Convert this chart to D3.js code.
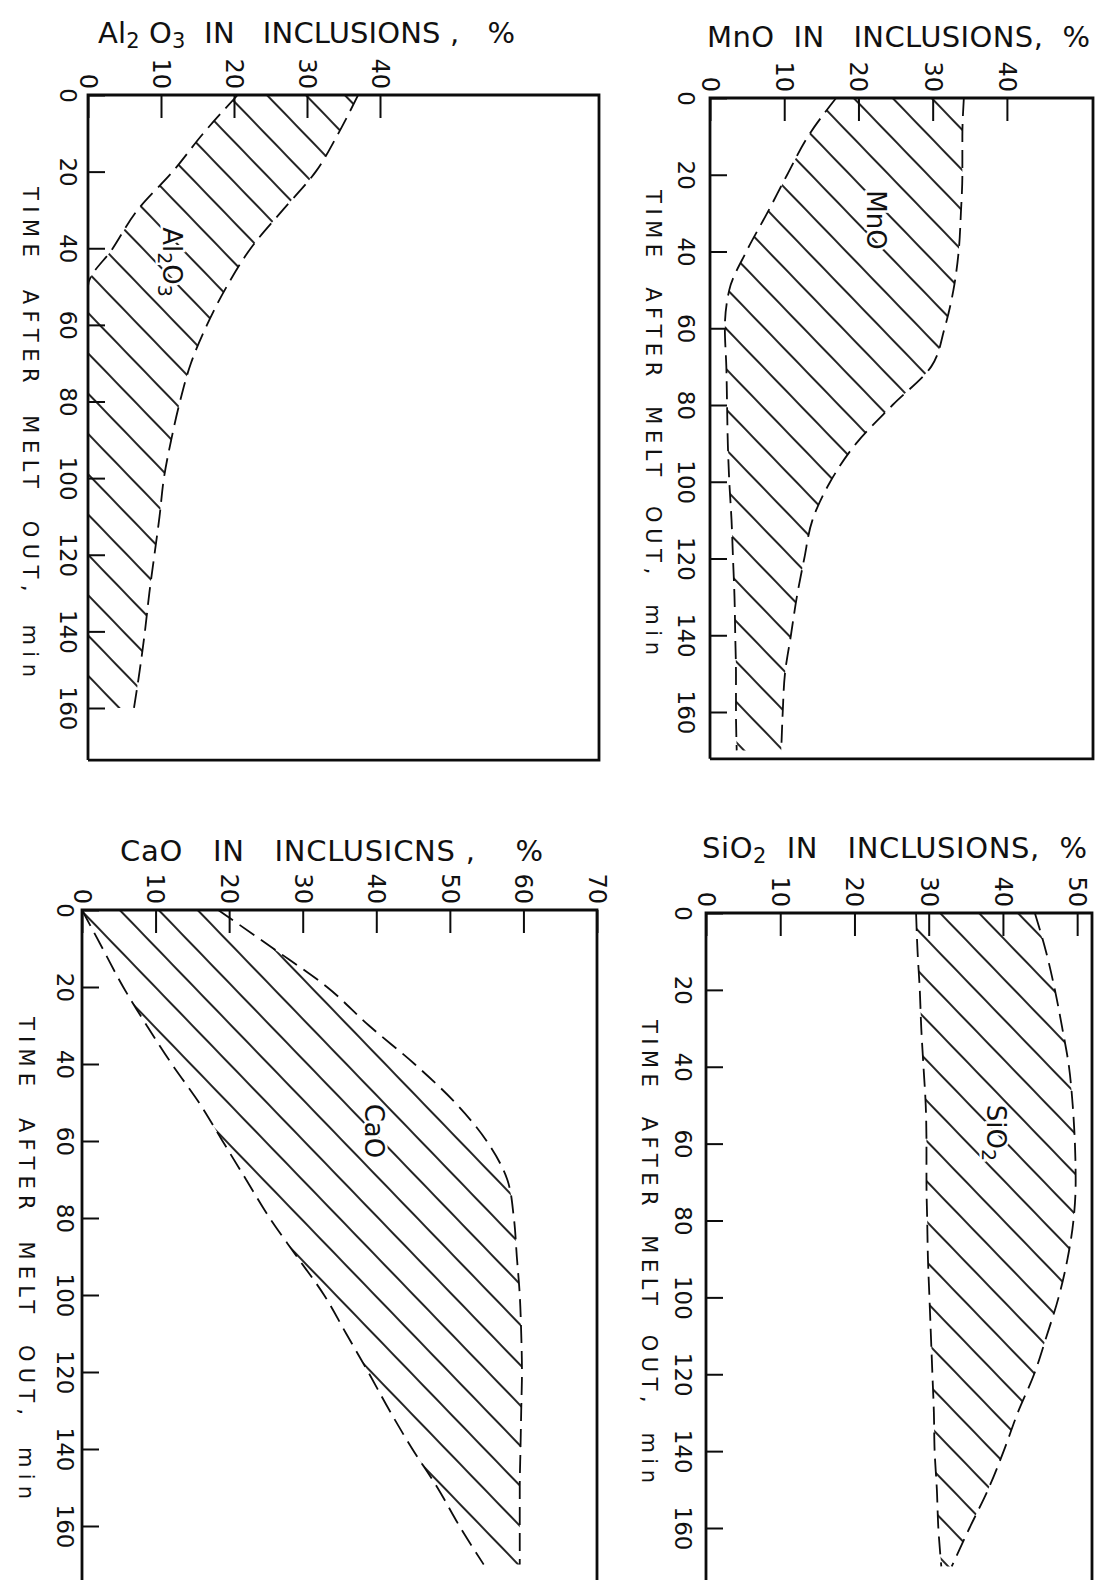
<!DOCTYPE html>
<html>
<head>
<meta charset="utf-8">
<script src="https://cdn.jsdelivr.net/npm/d3@7"></script>
<style>
  body { margin: 0; background: #fff; }
  svg { display: block; background: #fff; }
  text { font-family: "DejaVu Sans", "Liberation Sans", sans-serif; fill: #111; white-space: pre; }
</style>
</head>
<body>
<svg width="1095" height="1580"></svg>
<script>
(function() {
    'use strict';
    var svg = d3.select("svg");

    // time after melt out, min (shared rows for every panel)
    var timeMin = [0, 10, 20, 30, 40, 50, 60, 70, 80, 90, 100, 110, 120, 130, 140, 150, 160, 170];

    // lower / upper limits of each band, % in inclusions
    var al2o3Low  = [20.5, 15.8, 11.6, 6.8, 3.4, 0, 0, 0, 0, 0, 0, 0, 0, 0, 0, 0, 0, null];
    var al2o3High = [37, 34.3, 31.2, 26.7, 22.3, 19, 16.3, 14.1, 12.6, 11.4, 10.4, 9.8, 9.1, 8.4, 7.8, 7.1, 6.3, null];
    var mnoLow    = [17, 13.2, 10.4, 7.7, 4.9, 2.6, 2.0, 2.2, 2.3, 2.4, 2.6, 2.9, 3.1, 3.3, 3.4, 3.5, 3.5, 3.6];
    var mnoHigh   = [34.2, 34, 34, 33.8, 33.5, 32.8, 31.6, 29.8, 24.6, 19.7, 16.2, 13.8, 12.7, 11.7, 10.9, 10.1, 9.8, 9.6];
    var sio2Low   = [28.3, 28.5, 28.8, 29, 29.3, 29.6, 29.7, 29.7, 29.8, 29.9, 30.1, 30.3, 30.5, 30.7, 30.8, 31.1, 31.3, 31.7];
    var sio2High  = [44.3, 45.8, 47, 48, 48.9, 49.4, 49.7, 49.8, 49.5, 48.7, 47.5, 45.9, 44.2, 42, 40.1, 38, 35.5, 33.1];
    var caoLow    = [0, 2.8, 5.6, 8.8, 12.2, 15.9, 19.1, 22.3, 25.5, 29.2, 32.9, 35.9, 38.9, 41.8, 44.9, 48.3, 51.3, 54.6];
    var caoHigh   = [18.5, 26, 33.3, 39, 45.2, 50.7, 55, 57.8, 58.7, 59.1, 59.5, 59.7, 59.8, 59.7, 59.6, 59.5, 59.5, 59.5];

    // tick labels
    var timeTicks  = [0, 20, 40, 60, 80, 100, 120, 140, 160];
    var al2o3Ticks = [0, 10, 20, 30, 40];
    var mnoTicks   = [0, 10, 20, 30, 40];
    var sio2Ticks  = [0, 10, 20, 30, 40, 50];
    var caoTicks   = [0, 10, 20, 30, 40, 50, 60, 70];

    var timeTitle = "TIME  AFTER  MELT  OUT,  min";

    var ink = "#0c0c0c";

    svg.append("defs").append("pattern")
        .attr("id", "hatch")
        .attr("patternUnits", "userSpaceOnUse")
        .attr("width", 28)
        .attr("height", 28)
        .attr("patternTransform", "rotate(-44)")
      .append("line")
        .attr("x1", 14).attr("y1", -2)
        .attr("x2", 14).attr("y2", 30)
        .attr("stroke", ink)
        .attr("stroke-width", 1.8);

    var panels = [
        { low: al2o3Low, high: al2o3High, ticks: al2o3Ticks,
          pctMax: 70, xr: [88, 599], yr: [95, 708], tEnd: 173.6, closed: true,
          title: [["Al", 0], ["2", 1], [" O", 0], ["3", 1], ["  IN   INCLUSIONS ,   %", 0]],
          titleX: 98, titleY: 43, titleLen: 417,
          timeLabelX: 23, timeLabelY: [187, 677], tickLabelX: 60,
          name: [["Al", 0], ["2", 1], ["O", 0], ["3", 1]], nameAt: [172, 262] },
        { low: mnoLow, high: mnoHigh, ticks: mnoTicks,
          pctMax: 51.6, xr: [710, 1093], yr: [98, 712], tEnd: 172.2, closed: true,
          title: [["MnO  IN   INCLUSIONS,  %", 0]],
          titleX: 707, titleY: 47, titleLen: 383,
          timeLabelX: 646, timeLabelY: [190, 655], tickLabelX: 678,
          name: [["MnO", 0]], nameAt: [876, 220] },
        { low: sio2Low, high: sio2High, ticks: sio2Ticks,
          pctMax: 52, xr: [706, 1092], yr: [913, 1528], tEnd: 185, closed: false,
          title: [["SiO", 0], ["2", 1], ["  IN   INCLUSIONS,  %", 0]],
          titleX: 702, titleY: 858, titleLen: 385,
          timeLabelX: 642, timeLabelY: [1020, 1483], tickLabelX: 675,
          name: [["SiO", 0], ["2", 1]], nameAt: [996, 1133] },
        { low: caoLow, high: caoHigh, ticks: caoTicks,
          pctMax: 70, xr: [82, 597], yr: [910, 1526], tEnd: 185, closed: false,
          title: [["CaO   IN   INCLUSICNS ,    %", 0]],
          titleX: 120, titleY: 861, titleLen: 423,
          timeLabelX: 19, timeLabelY: [1017, 1499], tickLabelX: 57,
          name: [["CaO", 0]], nameAt: [374, 1131] }
    ];

    function addParts(text, parts, subSize, shift) {
        var lowered = false;
        parts.forEach(function(pt) {
            var ts = text.append("tspan").text(pt[0]);
            if (pt[1] && !lowered) { ts.attr("dy", shift).attr("font-size", subSize); lowered = true; }
            else if (pt[1]) { ts.attr("font-size", subSize); }
            else if (lowered) { ts.attr("dy", -shift); lowered = false; }
        });
    }

    panels.forEach(function(p) {
        var x = d3.scaleLinear().domain([0, p.pctMax]).range(p.xr);
        var y = d3.scaleLinear().domain([0, 160]).range(p.yr);
        var g = svg.append("g");

        var rows = timeMin.map(function(t, i) {
            return { t: t, low: p.low[i], high: p.high[i] };
        });
        var ok = function(d) { return d.low != null && d.high != null; };

        // hatched band
        g.append("path")
            .datum(rows)
            .attr("fill", "url(#hatch)")
            .attr("d", d3.area()
                .defined(ok)
                .y(function(d) { return y(d.t); })
                .x0(function(d) { return x(d.low); })
                .x1(function(d) { return x(d.high); })
                .curve(d3.curveMonotoneY));

        // dashed limits
        ["low", "high"].forEach(function(k) {
            g.append("path")
                .datum(rows)
                .attr("fill", "none")
                .attr("stroke", ink)
                .attr("stroke-width", 1.8)
                .attr("stroke-dasharray", "18,8")
                .attr("d", d3.line()
                    .defined(ok)
                    .y(function(d) { return y(d.t); })
                    .x(function(d) { return x(d[k]); })
                    .curve(d3.curveMonotoneY));
        });

        // frame
        var fx0 = x(0), fx1 = x(p.pctMax), fy0 = y(0), fy1 = y(p.tEnd);
        var frame = d3.path();
        frame.moveTo(fx0, fy1);
        frame.lineTo(fx0, fy0);
        frame.lineTo(fx1, fy0);
        frame.lineTo(fx1, fy1);
        if (p.closed) frame.lineTo(fx0, fy1);
        g.append("path")
            .attr("d", frame.toString())
            .attr("fill", "none")
            .attr("stroke", ink)
            .attr("stroke-width", 2.8);

        // percent axis along the top, ticks pointing in
        var top = g.append("g")
            .attr("transform", "translate(0," + fy0 + ")")
            .call(d3.axisTop(x).tickValues(p.ticks).tickSize(-23).tickSizeOuter(0));
        top.attr("font-family", null);
        top.select(".domain").remove();
        top.selectAll(".tick line").attr("stroke", ink).attr("stroke-width", 2);
        top.selectAll(".tick text")
            .attr("x", -6).attr("y", 0).attr("dy", "0.36em")
            .attr("transform", "rotate(90)")
            .attr("text-anchor", "end")
            .attr("font-size", 24)
            .attr("fill", ink);

        // time axis down the left, ticks pointing in
        var left = g.append("g")
            .attr("transform", "translate(" + fx0 + ",0)")
            .call(d3.axisLeft(y).tickValues(timeTicks).tickSize(-17).tickSizeOuter(0));
        left.attr("font-family", null);
        left.select(".domain").remove();
        left.selectAll(".tick line").attr("stroke", ink).attr("stroke-width", 2);
        left.selectAll(".tick text")
            .attr("x", 0).attr("y", 0).attr("dy", 0)
            .attr("transform", "translate(" + (p.tickLabelX - fx0) + ",0) rotate(90)")
            .attr("text-anchor", "middle")
            .attr("font-size", 23)
            .attr("fill", ink);

        // time axis title
        svg.append("text")
            .attr("transform", "translate(" + p.timeLabelX + "," + p.timeLabelY[0] + ") rotate(90)")
            .attr("font-size", 21)
            .attr("textLength", p.timeLabelY[1] - p.timeLabelY[0])
            .attr("lengthAdjust", "spacing")
            .text(timeTitle);

        // percent axis title
        var tt = svg.append("text")
            .attr("x", p.titleX)
            .attr("y", p.titleY)
            .attr("font-size", 29)
            .attr("textLength", p.titleLen)
            .attr("lengthAdjust", "spacing");
        addParts(tt, p.title, 21, 5);

        // band name
        var nm = svg.append("text")
            .attr("transform", "translate(" + p.nameAt[0] + "," + p.nameAt[1] + ") rotate(90)")
            .attr("text-anchor", "middle")
            .attr("dy", "0.36em")
            .attr("font-size", 26)
            .style("paint-order", "stroke")
            .attr("stroke", "#fff")
            .attr("stroke-width", 5);
        addParts(nm, p.name, 19, 5);
    });
}());
</script>
</body>
</html>
